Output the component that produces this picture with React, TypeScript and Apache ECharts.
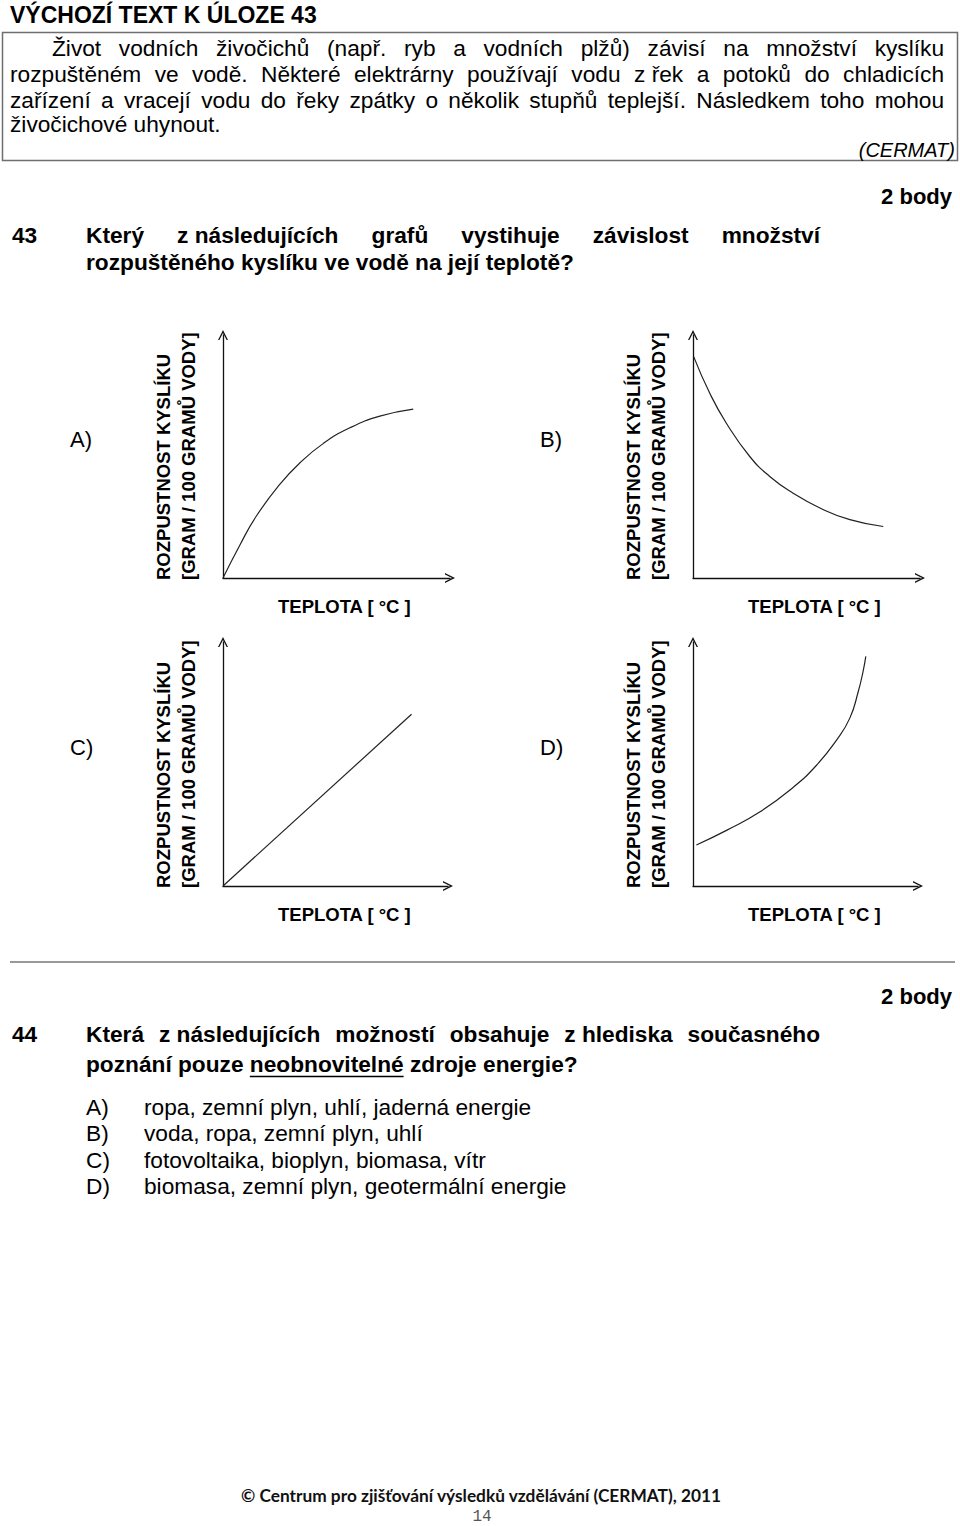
import React, { useEffect, useRef } from "react";
import * as echarts from "echarts";

// ---------- texts ----------
const titleText = "VÝCHOZÍ TEXT K ÚLOZE 43";
const introLines = [
  "Život vodních živočichů (např. ryb a vodních plžů) závisí na množství kyslíku",
  "rozpuštěném ve vodě. Některé elektrárny používají vodu z\u00a0řek a potoků do chladicích",
  "zařízení a vracejí vodu do řeky zpátky o několik stupňů teplejší. Následkem toho mohou",
  "živočichové uhynout.",
];
const sourceText = "(CERMAT)";
const pointsText = "2 body";
const q43Number = "43";
const q43Lines = [
  "Který z\u00a0následujících grafů vystihuje závislost množství",
  "rozpuštěného kyslíku ve vodě na její teplotě?",
];
const q44Number = "44";
const q44Line1 = "Která z\u00a0následujících možností obsahuje z\u00a0hlediska současného";
const q44Line2Before = "poznání pouze ";
const q44Line2Under = "neobnovitelné";
const q44Line2After = " zdroje energie?";
const q44Letters = ["A)", "B)", "C)", "D)"];
const q44Answers = [
  "ropa, zemní plyn, uhlí, jaderná energie",
  "voda, ropa, zemní plyn, uhlí",
  "fotovoltaika, bioplyn, biomasa, vítr",
  "biomasa, zemní plyn, geotermální energie",
];
const footerText = "© Centrum pro zjišťování výsledků vzdělávání (CERMAT), 2011";
const pageNumber = "14";

// ---------- chart data (temperature 0–100 → solubility 0–100, relative units) ----------
const panelLabels = ["A)", "B)", "C)", "D)"];
const yTitleLines = ["ROZPUSTNOST KYSLÍKU", "[GRAM / 100 GRAMŮ VODY]"];
const xTitle = "TEPLOTA [ °C ]";

const tempA = [0, 7.4, 14.7, 25.0, 33.8, 44.1, 55.9, 69.1, 83.8];
const solA = [0, 13.5, 25.5, 38.5, 47.3, 55.3, 61.8, 66.6, 69.5];

const tempB = [0.3, 7.4, 14.7, 25.0, 33.8, 44.1, 55.9, 69.1, 83.8];
const solB = [91.1, 76.0, 63.7, 50.0, 41.8, 34.9, 28.8, 24.0, 21.2];

const tempC = [0, 83.8];
const solC = [0, 70.4];

const tempD = [1.5, 15.1, 29.8, 44.6, 54.9, 63.8, 69.7, 73.4, 75.6, 76.8];
const solD = [16.8, 22.9, 30.4, 40.5, 49.5, 59.8, 68.8, 79.5, 88.0, 94.1];

const panelTemps = [tempA, tempB, tempC, tempD];
const panelSols = [solA, solB, solC, solD];

// ---------- layout ----------
const W = 960;
const H = 1526;
const SANS = "'Liberation Sans', Arial, sans-serif";
const FS = 22.7;
const panels = [
  { left: 223, top: 335, width: 227, height: 243 },
  { left: 693, top: 335, width: 227, height: 243 },
  { left: 223, top: 642, width: 225, height: 244 },
  { left: 693, top: 642, width: 225, height: 244 },
];

let measureCtx: CanvasRenderingContext2D | null = null;
function measure(text: string, size: number, weight = "normal", family = SANS): number {
  if (!measureCtx) measureCtx = document.createElement("canvas").getContext("2d");
  measureCtx!.font = `${weight} ${size}px ${family}`;
  return measureCtx!.measureText(text).width;
}

function txt(text: string, x: number, y: number, extra: any = {}) {
  const { size = FS, weight = "normal", family = SANS, align = "left", color = "#000", fontStyle = "normal", rotation = 0 } = extra;
  return {
    type: "text",
    x,
    y,
    rotation,
    silent: true,
    style: {
      text,
      fill: color,
      fontSize: size,
      fontWeight: weight,
      fontFamily: family,
      fontStyle,
      textAlign: align,
      textVerticalAlign: "middle",
    },
  };
}

function justified(line: string, x0: number, x1: number, y: number, size: number, weight = "normal") {
  const words = line.split(" ").filter((w) => w.length > 0).map((w) => w.replace(/\u00a0/g, " "));
  const widths = words.map((w) => measure(w, size, weight));
  const total = widths.reduce((a, b) => a + b, 0);
  const gap = words.length > 1 ? (x1 - x0 - total) / (words.length - 1) : 0;
  let x = x0;
  return words.map((w, i) => {
    const el = txt(w, x, y, { size, weight });
    x += widths[i] + gap;
    return el;
  });
}

const arrowPath = "path://M0,10 L5,0 L10,10 L8.6,10 L5,3 L1.4,10 Z";

export default function App() {
  const ref = useRef<HTMLDivElement>(null);

  useEffect(() => {
    if (!ref.current) return;
    const chart = echarts.init(ref.current, undefined, { renderer: "svg" });

    const graphics: any[] = [];
    // header
    graphics.push(txt(titleText, 10, 15, { size: 23, weight: "bold" }));
    graphics.push({
      type: "rect",
      silent: true,
      shape: { x: 2.5, y: 32.5, width: 955, height: 128 },
      style: { fill: "none", stroke: "#6e6e6e", lineWidth: 1.5 },
    });
    const introY = [48, 74, 100, 124];
    graphics.push(...justified(introLines[0], 52, 944, introY[0], FS));
    graphics.push(...justified(introLines[1], 10, 944, introY[1], FS));
    graphics.push(...justified(introLines[2], 10, 944, introY[2], FS));
    graphics.push(txt(introLines[3], 10, introY[3]));
    graphics.push(txt(sourceText, 955, 150, { size: 20, fontStyle: "italic", align: "right" }));

    // question 43
    graphics.push(txt(pointsText, 952, 196, { size: 22, weight: "bold", align: "right" }));
    graphics.push(txt(q43Number, 12, 235, { weight: "bold" }));
    graphics.push(...justified(q43Lines[0], 86, 820, 235, FS, "bold"));
    graphics.push(txt(q43Lines[1], 86, 262, { weight: "bold" }));

    // panels: labels and axis titles
    panels.forEach((p, i) => {
      const originY = p.top + p.height;
      graphics.push(txt(panelLabels[i], p.left - 153, p.top + p.height / 2 - 17, { size: 22 }));
      graphics.push(txt(yTitleLines[0], p.left - 60, originY + 2, { size: 18.5, weight: "bold", rotation: Math.PI / 2 }));
      graphics.push(txt(yTitleLines[1], p.left - 35, originY + 2, { size: 18.5, weight: "bold", rotation: Math.PI / 2 }));
      graphics.push(txt(xTitle, p.left + 55, originY + 28, { size: 18.5, weight: "bold" }));
    });

    // separator
    graphics.push({
      type: "line",
      silent: true,
      shape: { x1: 10, y1: 962, x2: 955, y2: 962 },
      style: { stroke: "#777", lineWidth: 1.5 },
    });

    // question 44
    graphics.push(txt(pointsText, 952, 996, { size: 22, weight: "bold", align: "right" }));
    graphics.push(txt(q44Number, 12, 1034, { weight: "bold" }));
    graphics.push(...justified(q44Line1, 86, 820, 1034, FS, "bold"));
    const l2 = q44Line2Before + q44Line2Under + q44Line2After;
    graphics.push(txt(l2, 86, 1064, { weight: "bold" }));
    const ux = 86 + measure(q44Line2Before, FS, "bold");
    const uw = measure(q44Line2Under, FS, "bold");
    graphics.push({
      type: "line",
      silent: true,
      shape: { x1: ux, y1: 1076.5, x2: ux + uw, y2: 1076.5 },
      style: { stroke: "#000", lineWidth: 1.5 },
    });
    const optY = [1107, 1133, 1160, 1186];
    q44Letters.forEach((l, i) => {
      graphics.push(txt(l, 86, optY[i]));
      graphics.push(txt(q44Answers[i], 144, optY[i]));
    });

    // footer
    graphics.push(txt(footerText, 481, 1495, { size: 17.3, weight: "bold", family: "Lato, 'Open Sans', sans-serif", align: "center", color: "#111" }));
    graphics.push(txt(pageNumber, 482, 1517, { size: 16, family: "'Liberation Mono', 'DejaVu Sans Mono', monospace", align: "center", color: "#555" }));

    const axisCommon = {
      type: "value",
      min: 0,
      max: 100,
      axisTick: { show: false },
      axisLabel: { show: false },
      splitLine: { show: false },
    };
    const axisLine = {
      show: true,
      onZero: false,
      symbol: ["none", arrowPath],
      symbolSize: [12, 10],
      lineStyle: { color: "#111", width: 1.3 },
    };

    const option: any = {
      animation: false,
      backgroundColor: "#fff",
      grid: panels.map((p) => ({ ...p, containLabel: false })),
      xAxis: panels.map((_, i) => ({ ...axisCommon, gridIndex: i, axisLine })),
      yAxis: panels.map((_, i) => ({ ...axisCommon, gridIndex: i, axisLine })),
      series: panels.map((_, i) => ({
        type: "line",
        xAxisIndex: i,
        yAxisIndex: i,
        data: panelTemps[i].map((t, k) => [t, panelSols[i][k]]),
        smooth: i === 2 ? false : 0.5,
        showSymbol: false,
        silent: true,
        lineStyle: { color: "#222", width: 1.2 },
      })),
      graphic: graphics,
    };

    chart.setOption(option);
    return () => chart.dispose();
  }, []);

  return <div ref={ref} style={{ position: "absolute", left: 0, top: 0, width: W, height: H }} />;
}
